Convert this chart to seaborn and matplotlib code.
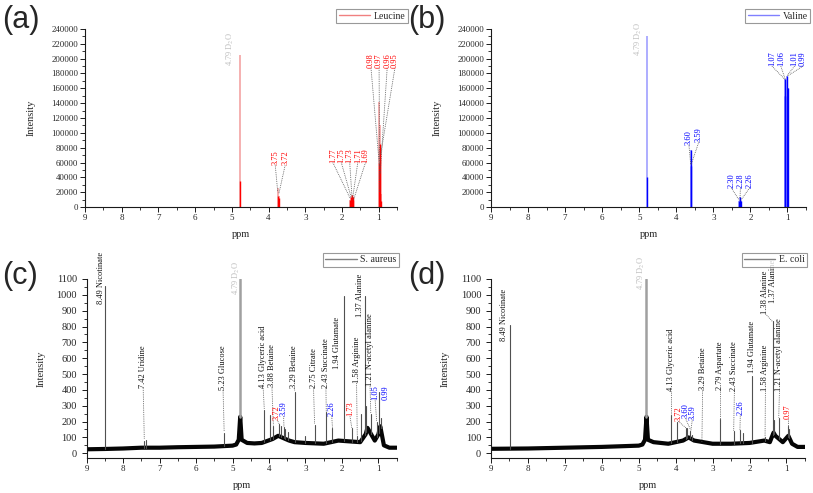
import numpy as np
import pandas as pd
import matplotlib
matplotlib.use('Agg')
import matplotlib.pyplot as plt
import seaborn as sns
from matplotlib.lines import Line2D
from matplotlib.ticker import MultipleLocator

# ---------------- data ----------------
# (a) leucine standard: peak ppm, full height, height of the dense (dark) part
leu_ppm = [4.79, 3.75, 3.72, 1.77, 1.75, 1.73, 1.71, 1.69, 0.98, 0.97, 0.96, 0.95]
leu_top = [205000, 25000, 15000, 10000, 14000, 16000, 13000, 9000, 142000, 110000, 80000, 18000]
leu_core = [35000, 15000, 12000, 10000, 14000, 16000, 13000, 9000, 60000, 85000, 80000, 8000]

# (b) valine standard
val_ppm = [4.79, 3.60, 3.59, 2.30, 2.28, 2.26, 1.07, 1.06, 1.01, 0.99]
val_top = [231000, 77000, 55000, 8000, 14000, 8000, 172000, 150000, 177000, 160000]
val_core = [40000, 77000, 55000, 8000, 14000, 8000, 172000, 150000, 177000, 160000]

# (c) S. aureus extract: baseline level and peaks
sa_base_ppm = [9.0, 8.5, 8.0, 7.5, 7.0, 6.5, 6.0, 5.5, 5.0, 4.9, 4.83, 4.79, 4.75, 4.6, 4.4, 4.2,
               3.9, 3.75, 3.6, 3.45, 3.3, 3.0, 2.5, 2.1, 1.8, 1.5, 1.35, 1.3, 1.1, 1.0, 0.95,
               0.85, 0.7, 0.5]
sa_base_int = [25, 27, 30, 35, 35, 38, 40, 42, 48, 55, 85, 230, 85, 65, 62, 65,
               90, 110, 95, 80, 70, 65, 60, 80, 75, 70, 120, 160, 80, 120, 170,
               50, 35, 35]
sa_ppm = [8.49, 7.42, 7.38, 5.23, 4.79, 4.13, 3.96, 3.88, 3.72, 3.68, 3.60, 3.55, 3.47, 3.29, 3.02,
          2.75, 2.43, 2.26, 1.94, 1.73, 1.58, 1.48, 1.37, 1.33, 1.21, 1.05, 0.99, 0.94]
sa_int = [1055, 75, 85, 130, 1100, 275, 240, 170, 185, 175, 165, 150, 135, 385, 110,
          180, 258, 160, 990, 160, 110, 245, 990, 300, 250, 200, 385, 225]

# (d) E. coli extract
ec_base_ppm = [9.0, 8.0, 7.0, 6.0, 5.0, 4.9, 4.83, 4.79, 4.75, 4.6, 4.2, 3.8, 3.65, 3.5, 3.0,
               2.5, 2.0, 1.6, 1.45, 1.35, 1.3, 1.1, 0.95, 0.85, 0.7, 0.5]
ec_base_int = [28, 30, 35, 40, 48, 55, 85, 230, 85, 70, 60, 80, 100, 80, 60,
               60, 65, 80, 70, 130, 110, 70, 110, 60, 40, 40]
ec_ppm = [8.49, 4.79, 4.13, 3.96, 3.72, 3.68, 3.60, 3.55, 2.79, 2.43, 2.26, 2.18, 1.94, 1.58,
          1.37, 1.33, 1.21, 0.97, 0.92]
ec_int = [810, 1100, 244, 195, 160, 160, 140, 115, 218, 140, 145, 130, 485, 100,
          832, 210, 225, 170, 150]

d2o = '4.79 D$_2$O'

# annotations: text, colour key, text x, text bottom y, leader end x, leader end y
leu_labels = [
    (d2o, 'g', 5.03, 190000, None, None),
    ('3.75', 'r', 3.82, 57000, 3.75, 20000), ('3.72', 'r', 3.55, 56000, 3.72, 18000),
    ('1.77', 'r', 2.25, 60000, 1.77, 11000), ('1.75', 'r', 2.02, 60000, 1.75, 13000),
    ('1.73', 'r', 1.79, 60000, 1.73, 15000), ('1.71', 'r', 1.57, 60000, 1.71, 12000),
    ('1.69', 'r', 1.36, 60000, 1.69, 9000),
    ('0.98', 'r', 1.21, 187000, 0.98, 55000), ('0.97', 'r', 0.99, 187000, 0.97, 20000),
    ('0.96', 'r', 0.77, 187000, 0.96, 45000), ('0.95', 'r', 0.56, 187000, 0.95, 70000),
]
val_labels = [
    (d2o, 'g', 5.02, 203000, None, None),
    ('3.60', 'b', 3.66, 84000, 3.61, 57000), ('3.59', 'b', 3.39, 88000, 3.60, 57000),
    ('2.30', 'b', 2.52, 26000, 2.30, 9000), ('2.28', 'b', 2.27, 26000, 2.28, 12000),
    ('2.26', 'b', 2.02, 26000, 2.26, 9000),
    ('1.07', 'b', 1.42, 190000, 1.07, 172000), ('1.06', 'b', 1.18, 190000, 1.06, 172000),
    ('1.01', 'b', 0.81, 190000, 1.01, 177000), ('0.99', 'b', 0.58, 190000, 0.99, 177000),
]
sa_labels = [
    ('8.49 Nicotinate', 'k', 8.61, 940, None, None),
    ('7.42 Uridine', 'k', 7.45, 410, 7.42, 90),
    ('5.23 Glucose', 'k', 5.26, 400, 5.23, 135),
    (d2o, 'g', 4.89, 1000, None, None),
    ('4.13 Glyceric acid', 'k', 4.16, 412, 4.13, 280),
    ('3.88 Betaine', 'k', 3.92, 420, 3.88, 175),
    ('3.72', 'r', 3.78, 212, 3.72, 185),
    ('3.59', 'b', 3.60, 233, 3.59, 165),
    ('3.29 Betaine', 'k', 3.31, 413, 3.29, 390),
    ('2.75 Citrate', 'k', 2.78, 413, 2.75, 185),
    ('2.43 Succinate', 'k', 2.44, 413, 2.43, 260),
    ('2.26', 'b', 2.28, 233, 2.26, 160),
    ('1.94 Glutamate', 'k', 2.13, 530, None, None),
    ('1.73', 'r', 1.78, 233, 1.73, 160),
    ('1.58 Arginine', 'k', 1.60, 443, 1.58, 110),
    ('1.37 Alanine', 'k', 1.50, 863, None, None),
    ('1.21 N-acetyl alanine', 'k', 1.23, 422, 1.21, 255),
    ('1.05', 'b', 1.09, 338, 1.05, 205),
    ('0.99', 'b', 0.80, 338, None, None),
]
ec_labels = [
    ('8.49 Nicotinate', 'k', 8.65, 706, None, None),
    (d2o, 'g', 4.93, 1031, None, None),
    ('4.13 Glyceric acid', 'k', 4.13, 391, 4.13, 244),
    ('3.72', 'r', 3.93, 202, 3.72, 160),
    ('3.60', 'b', 3.74, 223, 3.60, 150),
    ('3.59', 'b', 3.55, 212, 3.59, 140),
    ('3.29 Betaine', 'k', 3.27, 401, 3.29, 70),
    ('2.79 Aspartate', 'k', 2.79, 401, 2.79, 218),
    ('2.43 Succinate', 'k', 2.41, 391, 2.43, 140),
    ('2.26', 'b', 2.25, 244, 2.26, 145),
    ('1.94 Glutamate', 'k', 1.94, 506, None, None),
    ('1.58 Arginine', 'k', 1.57, 391, 1.58, 100),
    ('1.38 Alanine', 'k', 1.57, 880, 1.38, 832),
    ('1.37 Alanine', 'k', 1.37, 950, None, None),
    ('1.21 N-acetyl alanine', 'k', 1.19, 391, 1.21, 225),
    ('0.97', 'r', 0.97, 215, 0.97, 170),
]

# ---------------- style ----------------
sns.set_theme(style='ticks')
plt.rcParams['font.family'] = ['Liberation Serif', 'DejaVu Serif']
plt.rcParams['mathtext.fontset'] = 'stix'
plt.rcParams['axes.linewidth'] = 0.8
plt.rcParams['xtick.direction'] = 'out'
plt.rcParams['ytick.direction'] = 'out'

text_col = {'k': '#111111', 'r': '#ff0000', 'b': '#0000ff', 'g': '#c0c0c0'}
lab_fs = 6.0

fig = plt.figure(figsize=(8.13, 4.93), dpi=100)
ax_a = fig.add_axes([0.1046, 0.5801, 0.3838, 0.3611])
ax_b = fig.add_axes([0.6039, 0.5801, 0.3875, 0.3611])
ax_c = fig.add_axes([0.1066, 0.0710, 0.3813, 0.3631])
ax_d = fig.add_axes([0.6039, 0.0710, 0.3862, 0.3631])


def setup(ax, ymax, ystep, ymin=0, ysize=6.3, ypad=11, ytpad=1.5):
    ax.set_xlim(9, 0.5)
    ax.set_ylim(ymin, ymax)
    ax.xaxis.set_major_locator(MultipleLocator(1))
    ax.xaxis.set_minor_locator(MultipleLocator(0.5))
    ax.yaxis.set_major_locator(MultipleLocator(ystep))
    ax.yaxis.set_minor_locator(MultipleLocator(ystep / 2))
    ax.set_yticks(np.arange(0, ymax + 1, ystep))
    ax.tick_params(which='major', length=3.5, width=0.7, labelsize=6.5, pad=1.5, color='k')
    ax.tick_params(axis='y', labelsize=ysize, pad=ytpad)
    ax.tick_params(which='minor', length=2, width=0.6, color='k')
    sns.despine(ax=ax)
    for s in ['left', 'bottom']:
        ax.spines[s].set_color('k')
    ax.set_xlabel('ppm', fontsize=7.5, labelpad=6)
    ax.set_ylabel('Intensity', fontsize=7.5, labelpad=ypad)


def annotate(ax, labels):
    for txt, c, tx, ty, px, py in labels:
        ax.text(tx, ty, txt, rotation=90, ha='center', va='bottom', fontsize=lab_fs,
                color=text_col[c], clip_on=False)
        if px is not None:
            ax.plot([tx, px], [ty, py], ls=(0, (1, 1.2)), lw=0.6, color='#555555')


def legend(ax, name, col, bx, by):
    h = [Line2D([0], [0], color=col, lw=1)]
    lg = ax.legend(h, [name], loc='upper right', bbox_to_anchor=(bx, by), fontsize=7,
                   frameon=True, fancybox=False, edgecolor='#808080', handlelength=3.2,
                   borderpad=0.25, handletextpad=0.4, borderaxespad=0)
    lg.get_frame().set_linewidth(0.8)


# (a) leucine
setup(ax_a, 240000, 20000)
ax_a.vlines(leu_ppm, 0, leu_top, color='#f4a3a3', lw=1.2)
ax_a.vlines(leu_ppm, 0, leu_core, color='#ff0000', lw=1.0)
annotate(ax_a, leu_labels)
legend(ax_a, 'Leucine', '#f08080', 1.035, 1.11)

# (b) valine
setup(ax_b, 240000, 20000)
ax_b.vlines(val_ppm, 0, val_top, color='#a0a0ff', lw=1.2)
ax_b.vlines(val_ppm, 0, val_core, color='#0000ff', lw=1.0)
annotate(ax_b, val_labels)
legend(ax_b, 'Valine', '#8080ff', 1.013, 1.11)

# (c) S. aureus and (d) E. coli extracts
for ax, bp, bi, pp, pi, labs, name in [
        (ax_c, sa_base_ppm, sa_base_int, sa_ppm, sa_int, sa_labels, 'S. aureus'),
        (ax_d, ec_base_ppm, ec_base_int, ec_ppm, ec_int, ec_labels, 'E. coli')]:
    base = pd.DataFrame({'ppm': bp, 'intensity': bi})
    sns.lineplot(data=base, x='ppm', y='intensity', ax=ax, color='#050505', lw=3.0,
                 sort=False, estimator=None)
    foot = np.interp(pp[::-1], bp[::-1], bi[::-1])[::-1]
    cols = ['#a0a0a0' if p == 4.79 else '#505050' for p in pp]
    lws = [1.8 if p == 4.79 else 0.8 for p in pp]
    for p, f, h, c, w in zip(pp, foot, pi, cols, lws):
        ax.plot([p, p], [f, h], color=c, lw=w)
    setup(ax, 1100, 100, ymin=-30, ysize=7.5, ypad=8, ytpad=3.5)
    annotate(ax, labs)
    legend(ax, name, '#808080', 1.008, 1.147)

for ax, letter in [(ax_a, '(a)'), (ax_b, '(b)'), (ax_c, '(c)'), (ax_d, '(d)')]:
    pos = ax.get_position()
    x0 = 0.002 if pos.x0 < 0.5 else 0.502
    y0 = 0.99 if pos.y0 > 0.5 else 0.47
    fig.text(x0, y0, letter, fontsize=22, family=['Liberation Sans', 'DejaVu Sans'],
             ha='left', va='top')

fig.savefig('out.png', dpi=100)
